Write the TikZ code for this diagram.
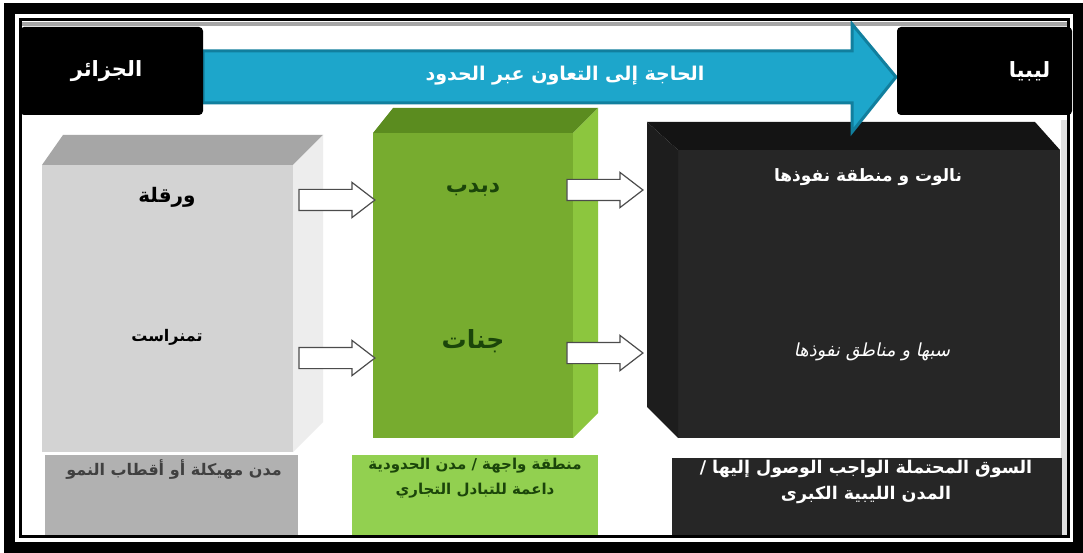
\documentclass[tikz,border=0pt]{standalone}
\usepackage{fontspec}
\usepackage{tikz}
\usetikzlibrary{shapes.arrows,calc}
\TeXXeTstate=1
\newfontfamily\arabicfont[Script=Arabic]{DejaVu Sans}
\newfontfamily\arabicpenche[Script=Arabic,FakeSlant=0.2]{DejaVu Sans}
\newcommand{\arb}[1]{\beginR #1\endR}

\definecolor{grisface}{HTML}{D3D3D3}
\definecolor{gristop}{HTML}{A6A6A6}
\definecolor{grisside}{HTML}{EDEDED}
\definecolor{grislabel}{HTML}{B1B1B1}
\definecolor{vertface}{HTML}{77AC2F}
\definecolor{verttop}{HTML}{5B8C1F}
\definecolor{vertside}{HTML}{8CC63E}
\definecolor{vertlabel}{HTML}{92D050}
\definecolor{vertfonce}{HTML}{1B450A}
\definecolor{noirface}{HTML}{262626}
\definecolor{noirtop}{HTML}{141414}
\definecolor{noirside}{HTML}{1D1D1D}
\definecolor{bleufleche}{HTML}{1DA6CB}
\definecolor{bleubord}{HTML}{117F9E}

\tikzset{
  face/.style={inner sep=0pt, outer sep=0pt},
  txt/.style={font=\arabicfont\bfseries\fontsize{#1}{#1}\selectfont, inner sep=1pt},
  blanche/.style={single arrow, draw=black!70, fill=white, line width=1.2pt,
    minimum height=76pt, minimum width=34pt, single arrow head extend=7pt,
    single arrow tip angle=75, inner xsep=0pt, inner ysep=10pt, outer sep=0pt},
  pays/.style={fill=black, rounded corners=4pt, inner sep=0pt, outer sep=0pt,
    text=white, font=\arabicfont\bfseries\fontsize{21}{21}\selectfont}
}

\begin{document}
\begin{tikzpicture}[x=1pt,y=-1pt]
\useasboundingbox (0,0) rectangle (1083,553);
\fill[white] (0,0) rectangle (1083,553);
\fill[black!35] (22,22) rectangle (1067,26);
\fill[black!12] (1061,120) rectangle (1067,535);

% cuboide gris
\node[face, fill=grisface, minimum width=251pt, minimum height=287pt] (gris) at (167.5,308.5) {};
\fill[gristop] (gris.north west) -- ++(21,-30) -- ($(gris.north east)+(30,-30)$) -- (gris.north east) -- cycle;
\fill[grisside] (gris.north east) -- ++(30,-30) -- ($(gris.south east)+(30,-30)$) -- (gris.south east) -- cycle;
\node[txt=20] (wargla) at (167,197) {\arb{ورقلة}};
\node[txt=16] (tam) at (167,337) {\arb{تمنراست}};

% cuboide vert
\node[face, fill=vertface, minimum width=200pt, minimum height=305pt] (vert) at (473,285.5) {};
\fill[verttop] (vert.north west) -- ++(20,-25) -- ($(vert.north east)+(25,-25)$) -- (vert.north east) -- cycle;
\fill[vertside] (vert.north east) -- ++(25,-25) -- ($(vert.south east)+(25,-25)$) -- (vert.south east) -- cycle;
\node[txt=22, text=vertfonce] (debdeb) at (473,190) {\arb{دبدب}};
\node[txt=25, text=vertfonce] (djanet) at (473,341) {\arb{جنات}};

% cuboide noir
\node[face, fill=noirface, minimum width=382pt, minimum height=288pt] (noir) at (869,294) {};
\fill[noirtop] (noir.north west) -- ++(-31,-28) -- ($(noir.north east)+(-25,-28)$) -- (noir.north east) -- cycle;
\fill[noirside] (noir.north west) -- ++(-31,-28) -- ($(noir.south west)+(-31,-31)$) -- (noir.south west) -- cycle;
\node[txt=17, text=white] (nalut) at (868,177) {\arb{نالوت و منطقة نفوذها}};
\node[text=white, inner sep=1pt, font=\arabicpenche\fontsize{18}{18}\selectfont] (sebha) at (872,352) {\arb{سبها و مناطق نفوذها}};

% etiquettes
\fill[grislabel] (45,455) rectangle (298,535);
\node[txt=16, text=black!75, anchor=north] (lgris) at (174,458) {\arb{مدن مهيكلة أو أقطاب النمو}};
\fill[vertlabel] (352,455) rectangle (598,535);
\node[txt=15, text=vertfonce, anchor=north, align=center] (lvert) at (475,457)
  {\arb{منطقة واجهة / مدن الحدودية}\\[9pt]\arb{داعمة  للتبادل التجاري}};
\fill[noirface] (672,458) rectangle (1062,535);
\node[txt=17.5, text=white, anchor=north, align=center] (lnoir) at (866,459)
  {\arb{السوق المحتملة الواجب الوصول إليها /}\\[7pt]\arb{المدن الليبية الكبرى}};

% grande fleche
\filldraw[fill=bleufleche, draw=bleubord, line width=3pt, line join=miter]
  (203,51) -- (852,51) -- (852,24) -- (896,77) -- (852,132) -- (852,103) -- (203,103) -- cycle;
\node[txt=19, text=white] (besoin) at (565,76) {\arb{الحاجة إلى التعاون عبر الحدود}};

\node[pays, minimum width=183pt, minimum height=88pt] (dz) at (111.5,71) {\hspace*{-10pt}\arb{الجزائر}};
\node[pays, minimum width=175pt, minimum height=88pt] (ly) at (984.5,71) {\hspace*{90pt}\arb{ليبيا}};

% fleches blanches
\node[blanche] (f1) at (330,200) {};
\node[blanche] (f2) at (330,358) {};
\node[blanche] (f3) at (598,190) {};
\node[blanche] (f4) at (598,353) {};

% cadre
\draw[line width=11pt] (9.5,9) rectangle (1078,547.5);
\draw[line width=3pt] (20.5,19.5) rectangle (1068,536.5);
\end{tikzpicture}
\end{document}
